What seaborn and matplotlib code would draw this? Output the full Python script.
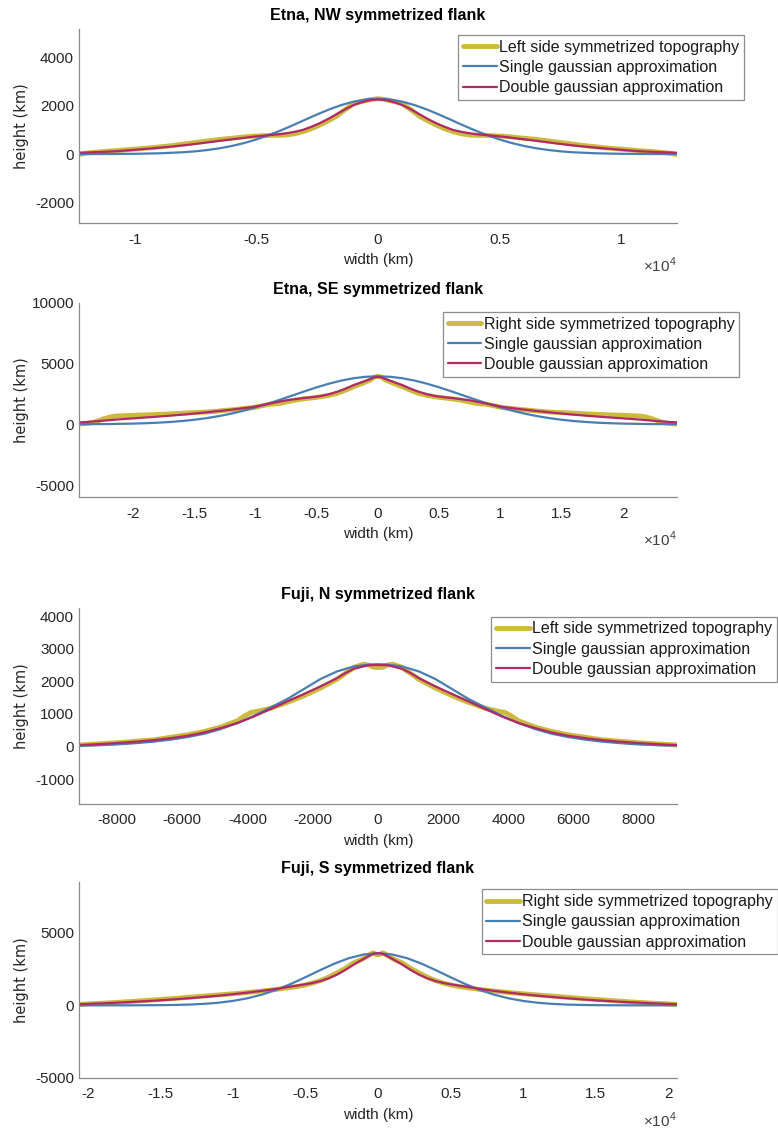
import numpy as np
import pandas as pd
import matplotlib
matplotlib.use("Agg")
import matplotlib.pyplot as plt
import seaborn as sns
from matplotlib.ticker import FixedLocator, FuncFormatter

sns.set_theme(style="white")
plt.rcParams["font.family"] = ["Liberation Sans", "DejaVu Sans"]
plt.rcParams["axes.unicode_minus"] = False
plt.rcParams["mathtext.fontset"] = "custom"
plt.rcParams["mathtext.rm"] = "Liberation Sans"

# ---- half profiles (x >= 0); each symmetrized flank is mirrored about the summit ----
# Etna, NW flank
nw_topo_x = [0, 300, 600, 1000, 1350, 1700, 2050, 2400, 2750, 3100, 3450, 3800, 4100, 4450,
             4800, 5150, 5500, 5800, 6500, 7200, 7900, 8500, 9300, 10000, 10650, 11300, 12000, 12300]
nw_topo_y = [2300, 2270, 2200, 2090, 1850, 1580, 1380, 1206, 1050, 928, 840, 790, 780, 776,
             760, 745, 715, 680, 610, 520, 430, 350, 265, 205, 152, 105, 40, -20]
nw_single_x = [0, 500, 1000, 1500, 2000, 2500, 3000, 3500, 4000, 4500, 5000, 5500, 6000, 6500,
               7000, 7500, 8000, 9000, 10000, 11000, 12300]
nw_single_y = [2300, 2270, 2181, 2040, 1859, 1649, 1425, 1198, 981, 783, 608, 460, 339, 243,
               170, 115, 76, 31, 11, 3, 0]
nw_double_x = [0, 250, 500, 750, 1000, 1350, 1700, 2050, 2400, 2750, 3100, 3450, 3800, 4100,
               4450, 4800, 5150, 5800, 6500, 7200, 7900, 8600, 9300, 10000, 10650, 11400, 12300]
nw_double_y = [2270, 2255, 2200, 2130, 2040, 1860, 1660, 1460, 1280, 1130, 1000, 920, 860, 820,
               790, 755, 720, 640, 553, 460, 374, 300, 237, 178, 125, 85, 55]

# Etna, SE flank
se_topo_x = [0, 300, 627, 1300, 1990, 2670, 3354, 4000, 4720, 5400, 6077, 6750, 7444, 8000,
             8400, 8810, 9300, 9800, 10175, 11000, 11500, 12900, 14000, 15620, 17000, 18350,
             19500, 20500, 21300, 21800, 22300, 22800, 23300, 23800, 24400]
se_topo_y = [3950, 3880, 3640, 3360, 3085, 2800, 2537, 2380, 2260, 2170, 2093, 1990, 1846, 1720,
             1680, 1653, 1560, 1450, 1377, 1300, 1240, 1102, 1010, 937, 860, 799,
             760, 720, 690, 620, 480, 300, 150, 70, 30]
se_single_x = [0, 1000, 2000, 3000, 4000, 5000, 6000, 7000, 8000, 9000, 10000, 11000, 12000,
               13000, 14000, 15000, 16000, 17000, 18000, 19000, 20000, 22000, 24400]
se_single_y = [3950, 3909, 3788, 3595, 3341, 3042, 2710, 2364, 2021, 1692, 1387, 1112, 874,
               673, 508, 375, 270, 192, 133, 90, 60, 25, 8]
se_double_x = [0, 300, 627, 1300, 1990, 2670, 3354, 4000, 4720, 5400, 6077, 6750, 7444, 8130,
               8810, 9500, 10175, 11500, 12900, 14250, 15620, 17000, 18350, 19700, 21080,
               22400, 23800, 24400]
se_double_y = [3900, 3860, 3720, 3470, 3223, 2920, 2670, 2470, 2314, 2230, 2160, 2070, 1983, 1850,
               1711, 1570, 1432, 1260, 1102, 960, 826, 710, 606, 510, 413,
               300, 190, 160]

# Fuji, N flank
n_topo_x = [0, 150, 300, 450, 700, 1000, 1253, 1763, 2271, 2781, 3291, 3600, 3900, 4100,
            4309, 4819, 5327, 5837, 6857, 7875, 8893, 9170]
n_topo_y = [2420, 2430, 2500, 2520, 2440, 2240, 2060, 1791, 1555, 1350, 1170, 1100, 1040, 930,
            788, 595, 460, 359, 206, 123, 60, 45]
n_single_x = [0, 235, 743, 1253, 1763, 2271, 2781, 3291, 3799, 4309, 4819, 5327, 5837, 6350,
              6857, 7370, 7875, 8390, 8893, 9170]
n_single_y = [2520, 2515, 2454, 2301, 2067, 1761, 1454, 1196, 942, 718, 534, 390, 288, 210,
              150, 105, 70, 45, 30, 25]
n_double_x = [0, 300, 743, 1000, 1253, 1500, 1763, 2271, 2781, 3291, 3799, 4309, 4819, 5327,
              5837, 6350, 6857, 7370, 7875, 8393, 8893, 9170]
n_double_y = [2500, 2490, 2380, 2250, 2098, 1970, 1841, 1607, 1380, 1147, 920, 718, 564, 429,
              328, 255, 196, 150, 113, 80, 52, 42]

# Fuji, S flank
s_topo_x = [0, 150, 300, 450, 700, 1100, 1670, 2250, 2818, 3400, 3966, 4540, 5107, 5700, 6254,
            7000, 8000, 9000, 10000, 11000, 12000, 13000, 14000, 15000, 16000, 17000, 18000,
            19000, 20000, 20600]
s_topo_y = [3500, 3520, 3620, 3580, 3420, 3180, 2936, 2560, 2243, 1950, 1710, 1530, 1387, 1280, 1205,
            1100, 990, 890, 800, 720, 640, 560, 480, 410, 340, 270, 205,
            150, 100, 70]
s_single_x = [0, 1000, 2000, 3000, 4000, 5000, 6000, 7000, 8000, 9000, 10000, 11000, 12000,
              13000, 14000, 15000, 17000, 20600]
s_single_y = [3600, 3512, 3261, 2882, 2425, 1942, 1480, 1074, 741, 487, 305, 181, 103,
              55, 28, 14, 3, 0]
s_double_x = [0, 250, 529, 1100, 1670, 2250, 2818, 3400, 3966, 4540, 5107, 6000, 7000, 8000,
              9000, 10000, 11000, 12000, 13000, 14000, 15000, 16000, 17000, 18000, 19000,
              20000, 20600]
s_double_y = [3600, 3580, 3462, 3150, 2818, 2450, 2126, 1870, 1680, 1540, 1440, 1300, 1140, 1000,
              880, 770, 670, 580, 495, 420, 350, 290, 235, 185, 140,
              100, 80]

TOPO_C = "#CCBA3D"
SINGLE_C = "#4A7EB3"
DOUBLE_C = "#B02A67"
AXIS_C = "#8a8a8a"
TEXT_C = "#262626"


def mirrored(x, y):
    x = np.asarray(x, dtype=float)
    y = np.asarray(y, dtype=float)
    return pd.DataFrame({"width": np.concatenate([-x[::-1], x[1:]]),
                         "height": np.concatenate([y[::-1], y[1:]])})


panels = [
    dict(title="Etna, NW symmetrized flank", topo_label="Left side symmetrized topography",
         topo=(nw_topo_x, nw_topo_y), single=(nw_single_x, nw_single_y),
         double=(nw_double_x, nw_double_y),
         xlim=(-12300, 12300), ylim=(-2880, 5200),
         xticks=[-10000, -5000, 0, 5000, 10000], yticks=[-2000, 0, 2000, 4000],
         sci=True, rect=[0.1015, 0.8022, 0.7686, 0.1721], leg=(0.5893, 0.969)),
    dict(title="Etna, SE symmetrized flank", topo_label="Right side symmetrized topography",
         topo=(se_topo_x, se_topo_y), single=(se_single_x, se_single_y),
         double=(se_double_x, se_double_y),
         xlim=(-24400, 24400), ylim=(-6000, 10000),
         xticks=[-20000, -15000, -10000, -5000, 0, 5000, 10000, 15000, 20000],
         yticks=[-5000, 0, 5000, 10000],
         sci=True, rect=[0.1015, 0.5595, 0.7686, 0.1724], leg=(0.5694, 0.7239)),
    dict(title="Fuji, N symmetrized flank", topo_label="Left side symmetrized topography",
         topo=(n_topo_x, n_topo_y), single=(n_single_x, n_single_y),
         double=(n_double_x, n_double_y),
         xlim=(-9170, 9170), ylim=(-1750, 4250),
         xticks=[-8000, -6000, -4000, -2000, 0, 2000, 4000, 6000, 8000],
         yticks=[-1000, 0, 1000, 2000, 3000, 4000],
         sci=False, rect=[0.1015, 0.2883, 0.7686, 0.1733], leg=(0.6317, 0.4538)),
    dict(title="Fuji, S symmetrized flank", topo_label="Right side symmetrized topography",
         topo=(s_topo_x, s_topo_y), single=(s_single_x, s_single_y),
         double=(s_double_x, s_double_y),
         xlim=(-20600, 20600), ylim=(-5000, 8500),
         xticks=[-20000, -15000, -10000, -5000, 0, 5000, 10000, 15000, 20000],
         yticks=[-5000, 0, 5000],
         sci=True, rect=[0.1015, 0.0454, 0.7686, 0.1731], leg=(0.6189, 0.2123)),
]

fig = plt.figure(figsize=(7.78, 11.29), dpi=100)

for p in panels:
    ax = fig.add_axes(p["rect"])
    ax.set_facecolor("white")
    series = [
        (p["topo"], p["topo_label"], TOPO_C, 3.5),
        (p["single"], "Single gaussian approximation", SINGLE_C, 1.6),
        (p["double"], "Double gaussian approximation", DOUBLE_C, 1.6),
    ]
    for (xs, ys), label, color, lw in series:
        df = mirrored(xs, ys)
        sns.lineplot(data=df, x="width", y="height", ax=ax, color=color, linewidth=lw,
                     label=label, sort=False, estimator=None, errorbar=None)

    ax.set_xlim(*p["xlim"])
    ax.set_ylim(*p["ylim"])
    ax.xaxis.set_major_locator(FixedLocator(p["xticks"]))
    ax.yaxis.set_major_locator(FixedLocator(p["yticks"]))
    if p["sci"]:
        ax.xaxis.set_major_formatter(FuncFormatter(lambda v, _: f"{v / 1e4:g}"))
        ax.text(1.0, -0.218, r"$\times10^{4}$", transform=ax.transAxes, ha="right",
                va="center", fontsize=11, color="#404040")
    else:
        ax.xaxis.set_major_formatter(FuncFormatter(lambda v, _: f"{v:.0f}"))
    ax.yaxis.set_major_formatter(FuncFormatter(lambda v, _: f"{v:.0f}"))

    for side in ("top", "right"):
        ax.spines[side].set_visible(False)
    for side in ("left", "bottom"):
        ax.spines[side].set_color(AXIS_C)
        ax.spines[side].set_linewidth(0.9)
    ax.tick_params(axis="both", direction="in", length=4, width=0.8, color=AXIS_C,
                   labelsize=11, labelcolor=TEXT_C)
    ax.tick_params(axis="x", pad=7)
    ax.tick_params(axis="y", pad=3.5)

    ax.set_title(p["title"], fontsize=11.5, fontweight="bold", color="black", pad=6.5)
    ax.set_xlabel("width (km)", fontsize=11, color=TEXT_C)
    ax.set_ylabel("height (km)", fontsize=10.5, color=TEXT_C, family="DejaVu Sans")
    ax.xaxis.set_label_coords(0.5, -0.155)
    ax.yaxis.set_label_coords(-0.083, 0.5)

    leg = ax.legend(loc="upper left", bbox_to_anchor=p["leg"], bbox_transform=fig.transFigure,
                    frameon=True, fancybox=False, framealpha=1, edgecolor="#8c8c8c",
                    fontsize=11.5, handlelength=2.1, handletextpad=0.15, borderpad=0.3,
                    labelspacing=0.33, borderaxespad=0)
    leg.get_frame().set_linewidth(0.9)
    for t in leg.get_texts():
        t.set_color("#1a1a1a")

fig.savefig("out.png", dpi=100, facecolor="white")
